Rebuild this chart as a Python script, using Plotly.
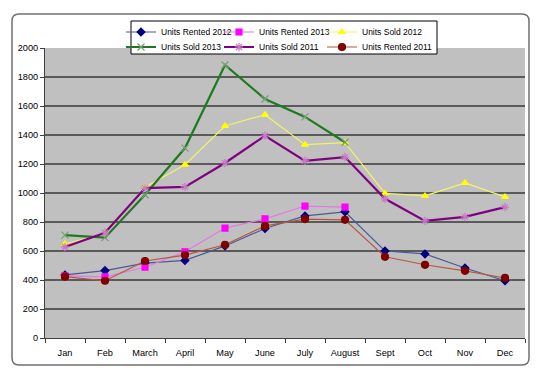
import plotly.graph_objects as go

months = ["Jan", "Feb", "March", "April", "May", "June", "July", "August", "Sept", "Oct", "Nov", "Dec"]
y_ticks = [0, 200, 400, 600, 800, 1000, 1200, 1400, 1600, 1800, 2000]

rented_2012 = [435, 465, 517, 535, 635, 755, 842, 870, 600, 580, 483, 395]
rented_2013 = [428, 422, 488, 595, 758, 822, 910, 903]
sold_2012 = [648, 720, 1040, 1195, 1462, 1540, 1333, 1347, 997, 980, 1070, 973]
sold_2013 = [710, 692, 988, 1310, 1883, 1648, 1525, 1350]
sold_2011 = [628, 726, 1034, 1042, 1207, 1395, 1222, 1248, 960, 808, 835, 903]
rented_2011 = [423, 395, 531, 572, 643, 773, 820, 815, 560, 505, 463, 414]

series = [
    ("Units Rented 2012", rented_2012, "#4a5898", "#000080", "diamond", 1.2, 6),
    ("Units Rented 2013", rented_2013, "#e27ae2", "#ff00ff", "square", 1.2, 6),
    ("Units Sold 2012", sold_2012, "#f2f26a", "#ffff00", "triangle-up", 1.2, 6),
    ("Units Sold 2013", sold_2013, "#1f7a1f", "#70a070", "x-thin-open", 2.2, 7),
    ("Units Sold 2011", sold_2011, "#800080", "#c878c8", "asterisk-open", 2.2, 7),
    ("Units Rented 2011", rented_2011, "#b4583c", "#800000", "circle", 1.2, 7),
]

L, R, T, B = 45, 17, 48, 39
W, H = 542, 377
pw, ph = W - L - R, H - T - B

def px(x):
    return (x - L) / pw

def py(y):
    return (H - B - y) / ph

fig = go.Figure()
for i, (name, vals, lc, mc, sym, lw, ms) in enumerate(series):
    fig.add_trace(go.Scatter(
        x=months[:len(vals)], y=vals, name=name, mode="lines+markers",
        line=dict(color=lc, width=lw),
        marker=dict(symbol=sym, color=mc, size=ms, line=dict(color=mc, width=1.2)),
        legend=f"legend{i + 2}", showlegend=True,
    ))

# rounded outer border
x0, x1, y0, y1 = 12, 529, 14, 365
r = 7
path = (f"M {px(x0 + r)},{py(y0)} L {px(x1 - r)},{py(y0)} Q {px(x1)},{py(y0)} {px(x1)},{py(y0 + r)} "
        f"L {px(x1)},{py(y1 - r)} Q {px(x1)},{py(y1)} {px(x1 - r)},{py(y1)} "
        f"L {px(x0 + r)},{py(y1)} Q {px(x0)},{py(y1)} {px(x0)},{py(y1 - r)} "
        f"L {px(x0)},{py(y0 + r)} Q {px(x0)},{py(y0)} {px(x0 + r)},{py(y0)} Z")

fig.add_shape(type="path", path=path, xref="paper", yref="paper",
              line=dict(color="#707070", width=1.5), layer="below")
# legend box
fig.add_shape(type="rect", xref="paper", yref="paper",
              x0=px(131), x1=px(437), y0=py(54), y1=py(21),
              line=dict(color="#000000", width=1), fillcolor="white", layer="above")

legend_common = dict(orientation="v", xanchor="left", yanchor="middle",
                     bgcolor="rgba(0,0,0,0)", borderwidth=0,
                     font=dict(family="Liberation Sans, Arial", size=8.5, color="black"),
                     itemwidth=30, tracegroupgap=0)

col_x = [121, 219, 322]
row_y = [32, 47]
legends = {}
k = 0
for ry in row_y:
    for cx in col_x:
        legends[f"legend{k + 2}"] = dict(x=px(cx), y=py(ry), **legend_common)
        k += 1

fig.update_layout(
    width=W, height=H,
    showlegend=True,
    margin=dict(l=L, r=R, t=T, b=B, autoexpand=False),
    paper_bgcolor="white",
    plot_bgcolor="#c0c0c0",
    font=dict(family="Liberation Sans, Arial", size=9, color="black"),
    xaxis=dict(categoryorder="array", categoryarray=months, range=[-0.5, 11.5],
               showgrid=False, ticks="outside", tickson="boundaries", ticklen=4,
               tickcolor="#404040", showline=True, linecolor="#404040", linewidth=1,
               tickfont=dict(size=9.2), ticklabelstandoff=6, fixedrange=True),
    yaxis=dict(range=[0, 2000], tickvals=y_ticks, showgrid=True, gridcolor="#5a5a5a",
               gridwidth=1.5, ticks="outside", ticklen=4, tickcolor="#404040",
               showline=True, linecolor="#404040", linewidth=1, zeroline=False,
               tickfont=dict(size=9.2), fixedrange=True),
    **legends,
)

fig.write_html("out.html", config={"displayModeBar": False},
               post_script="document.body.style.margin='0';")
